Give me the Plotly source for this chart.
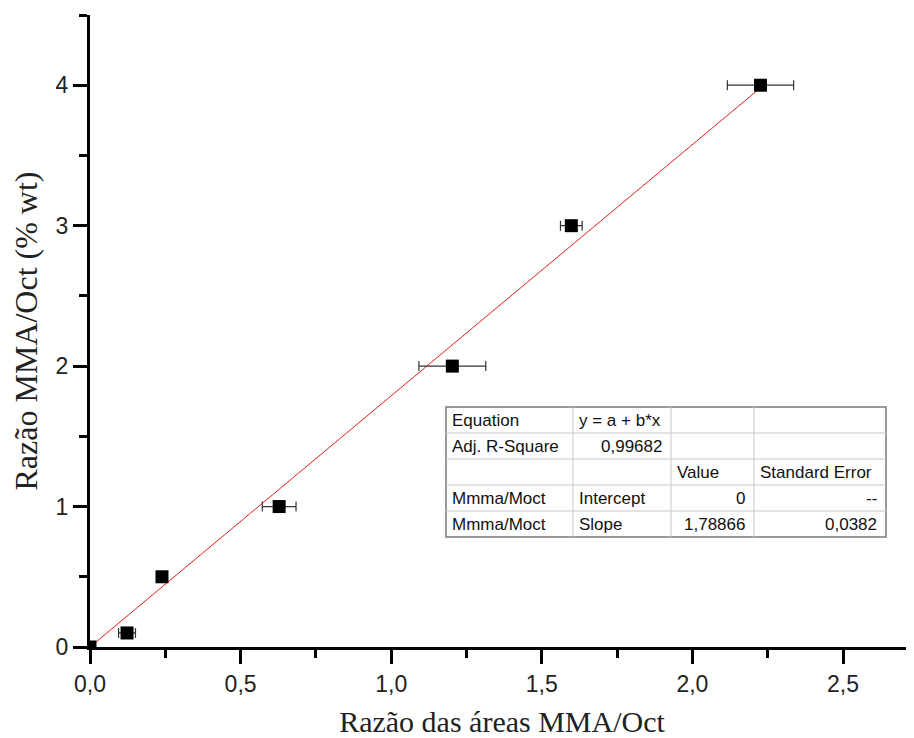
import plotly.graph_objects as go

# ---- data ----
x_ratio = [0.0, 0.123, 0.239, 0.628, 1.203, 1.598, 2.226]
y_wt = [0.0, 0.1, 0.5, 1.0, 2.0, 3.0, 4.0]
x_err = [0.0, 0.028, 0.01, 0.056, 0.111, 0.036, 0.11]

intercept = 0.0
slope = 1.78866
fit_x = [0.0, 2.226]
fit_y = [intercept + slope * v for v in fit_x]

table_rows = [
    ["Equation", "y = a + b*x", "", ""],
    ["Adj. R-Square", "0,99682", "", ""],
    ["", "", "Value", "Standard Error"],
    ["Mmma/Moct", "Intercept", "0", "--"],
    ["Mmma/Moct", "Slope", "1,78866", "0,0382"],
]
table_align = [
    ["left", "left", "left", "left"],
    ["left", "right", "left", "left"],
    ["left", "left", "left", "left"],
    ["left", "left", "right", "right"],
    ["left", "left", "right", "right"],
]

x_title = "Razão das áreas MMA/Oct"
y_title = "Razão MMA/Oct (% wt)"

# ---- layout geometry (pixels) ----
OFF = 8  # page body margin
W, H = 914 - OFF, 738 - OFF
L, R, T = 90 - OFF, 0, 15 - OFF
B = H - (647 - OFF)
PW, PH = W - L - R, H - T - B
X_MAX = PW / 301.2  # keep 301.2 px per x unit


def px_x(p):  # screen px -> paper
    return (p - OFF - L) / PW


def px_y(p):
    return (H - B - (p - OFF)) / PH


col_edges = [446, 573, 671, 754, 886]
row_edges = [407, 433, 459, 485, 511, 537]

fig = go.Figure()

fig.add_trace(go.Scatter(
    x=fit_x, y=fit_y, mode="lines",
    line=dict(color="rgb(225,30,30)", width=1),
    showlegend=False, hoverinfo="skip",
))

fig.add_trace(go.Scatter(
    x=x_ratio, y=y_wt, mode="markers",
    marker=dict(symbol="square", size=13, color="black"),
    error_x=dict(type="data", array=x_err, visible=True,
                 color="#333333", thickness=1.2, width=5),
    showlegend=False, cliponaxis=True,
))

shapes = []
annotations = []

shapes.append(dict(type="rect", xref="paper", yref="paper",
                   x0=px_x(col_edges[0]), x1=px_x(col_edges[-1]),
                   y0=px_y(row_edges[0]), y1=px_y(row_edges[-1]),
                   line=dict(color="#7a7a7a", width=1.5),
                   fillcolor="rgba(255,255,255,1)", layer="above"))
for xe in col_edges[1:-1]:
    shapes.append(dict(type="line", xref="paper", yref="paper",
                       x0=px_x(xe), x1=px_x(xe),
                       y0=px_y(row_edges[0]), y1=px_y(row_edges[-1]),
                       line=dict(color="#c8c8c8", width=1)))
for ye in row_edges[1:-1]:
    shapes.append(dict(type="line", xref="paper", yref="paper",
                       x0=px_x(col_edges[0]), x1=px_x(col_edges[-1]),
                       y0=px_y(ye), y1=px_y(ye),
                       line=dict(color="#c8c8c8", width=1)))

for r, row in enumerate(table_rows):
    yc = (row_edges[r] + row_edges[r + 1]) / 2
    for c, txt in enumerate(row):
        if not txt:
            continue
        al = table_align[r][c]
        if al == "left":
            xp = col_edges[c] + 4
        else:
            xp = col_edges[c + 1] - 7
        annotations.append(dict(
            text=txt, xref="paper", yref="paper",
            x=px_x(xp), y=px_y(yc), xanchor=al, yanchor="middle",
            showarrow=False,
            font=dict(family="Arial, Liberation Sans", size=17, color="#111111"),
        ))

fig.update_layout(
    width=W, height=H,
    margin=dict(l=L, r=R, t=T, b=B),
    paper_bgcolor="white", plot_bgcolor="white",
    separators=", ",
    shapes=shapes, annotations=annotations,
    xaxis=dict(
        range=[0, X_MAX], dtick=0.5, tick0=0, tickformat=".1f",
        showgrid=False, zeroline=False,
        showline=True, linecolor="black", linewidth=3,
        ticks="outside", ticklen=14, tickwidth=3, tickcolor="black",
        tickfont=dict(family="Arial, Liberation Sans", size=23, color="#222"),
        minor=dict(ticks="outside", ticklen=8, tickwidth=3, tickcolor="black",
                   dtick=0.25, showgrid=False),
        title=dict(text=x_title, standoff=16,
                   font=dict(family="Times New Roman, Liberation Serif", size=30, color="#222")),
    ),
    yaxis=dict(
        range=[0, 4.5], dtick=1, tick0=0, tickformat="d",
        showgrid=False, zeroline=False,
        showline=True, linecolor="black", linewidth=3,
        ticks="outside", ticklen=14, tickwidth=3, tickcolor="black",
        tickfont=dict(family="Arial, Liberation Sans", size=23, color="#222"),
        minor=dict(ticks="outside", ticklen=8, tickwidth=3, tickcolor="black",
                   dtick=0.5, showgrid=False),
        title=dict(text=y_title, standoff=12,
                   font=dict(family="Times New Roman, Liberation Serif", size=32, color="#222")),
    ),
)

fig.write_html("out.html")
